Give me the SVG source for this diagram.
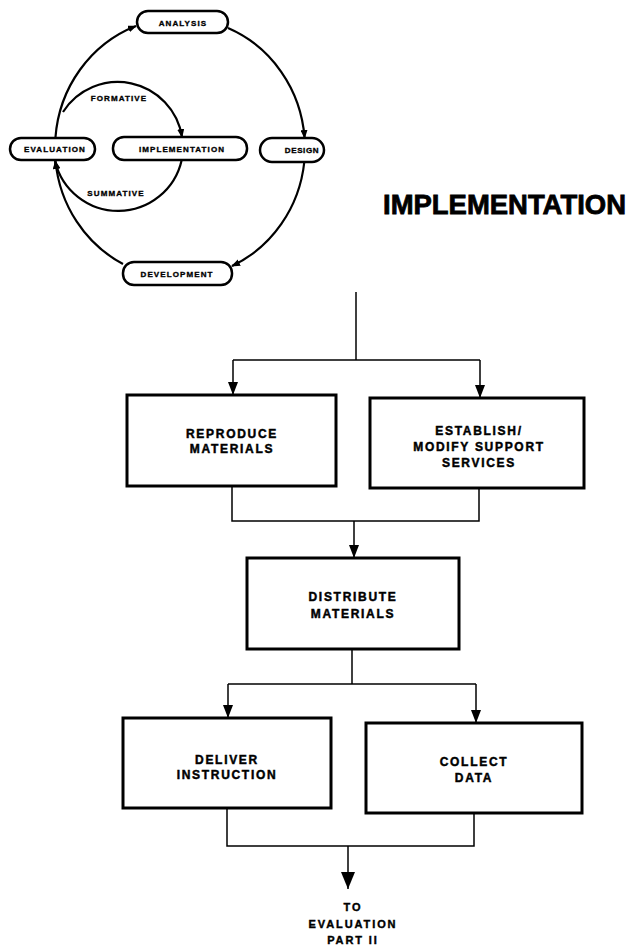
<svg xmlns="http://www.w3.org/2000/svg" width="634" height="949" viewBox="0 0 634 949">
  <style>
    .pill { fill: #fff; stroke: #000; stroke-width: 2.5; }
    .box { fill: #fff; stroke: #000; stroke-width: 3; }
    .arc { fill: none; stroke: #000; stroke-width: 2.2; }
    .wire { fill: none; stroke: #000; stroke-width: 1.5; }
    .lbl { font-family: "Liberation Sans", Arial, sans-serif; font-weight: bold; fill: #000; stroke: #000; text-anchor: middle; }
    .sm { font-size: 8px; letter-spacing: 1.1px; stroke-width: 0.35px; }
    .md { font-size: 12px; letter-spacing: 1.7px; stroke-width: 0.45px; }
    .ft { font-size: 11px; letter-spacing: 1.9px; stroke-width: 0.4px; }
    .title { font-size: 28px; text-anchor: start; stroke-width: 0.8px; }
  </style>
  <defs>
    <marker id="tipSmall" markerUnits="userSpaceOnUse" markerWidth="9" markerHeight="7" viewBox="0 0 9 7" refX="8" refY="3.5" orient="auto">
      <path d="M0,0 L9,3.5 L0,7 z" fill="#000"/>
    </marker>
    <marker id="tipFlow" markerUnits="userSpaceOnUse" markerWidth="13" markerHeight="10" viewBox="0 0 13 10" refX="13" refY="5" orient="auto">
      <path d="M0,0 L13,5 L0,10 z" fill="#000"/>
    </marker>
    <marker id="tipBig" markerUnits="userSpaceOnUse" markerWidth="17" markerHeight="14" viewBox="0 0 17 14" refX="17" refY="7" orient="auto">
      <path d="M0,0 L17,7 L0,14 z" fill="#000"/>
    </marker>
  </defs>

  <!-- cycle connectors -->
  <g id="cycle-connectors">
    <path class="arc" d="M55.4,138 A125,130 0 0,1 136,26" marker-end="url(#tipSmall)"/>
    <path class="arc" d="M228,28 A125,130 0 0,1 304.6,138" marker-end="url(#tipSmall)"/>
    <path class="arc" d="M304.3,162 A125,130 0 0,1 232,266" marker-end="url(#tipSmall)"/>
    <path class="arc" d="M123,264 A125,130 0 0,1 55.5,161" marker-end="url(#tipSmall)"/>
    <path class="arc" d="M63,112 A65,65 0 0,1 182,137" marker-end="url(#tipSmall)"/>
    <path class="arc" d="M181.7,160 A65,65 0 0,1 55,161" marker-end="url(#tipSmall)"/>
  </g>

  <!-- cycle phases -->
  <g id="analysis">
    <rect class="pill" x="137" y="11" width="91" height="22" rx="11"/>
    <text class="lbl sm" x="183" y="26">ANALYSIS</text>
  </g>
  <g id="evaluation">
    <rect class="pill" x="10" y="138" width="85" height="22" rx="11"/>
    <text class="lbl sm" x="55" y="152">EVALUATION</text>
  </g>
  <g id="implementation">
    <rect class="pill" x="113" y="137" width="134" height="23" rx="11"/>
    <text class="lbl sm" x="182" y="152">IMPLEMENTATION</text>
  </g>
  <g id="design">
    <rect class="pill" x="260" y="138" width="64" height="24" rx="12"/>
    <text class="lbl sm" x="302" y="153" style="letter-spacing:0.6px">DESIGN</text>
  </g>
  <g id="development">
    <rect class="pill" x="123" y="262" width="109" height="23" rx="11"/>
    <text class="lbl sm" x="177" y="277">DEVELOPMENT</text>
  </g>
  <g id="cycle-labels">
    <text class="lbl sm" x="119" y="101">FORMATIVE</text>
    <text class="lbl sm" x="116" y="196">SUMMATIVE</text>
  </g>

  <!-- title -->
  <text class="lbl title" x="383" y="214" textLength="243" lengthAdjust="spacingAndGlyphs">IMPLEMENTATION</text>

  <!-- flow connectors -->
  <g id="flow-connectors">
    <path class="wire" d="M356,292 V360"/>
    <path class="wire" d="M233,360 H480"/>
    <path class="wire" d="M233,360 V395" marker-end="url(#tipFlow)"/>
    <path class="wire" d="M480,360 V398" marker-end="url(#tipFlow)"/>
    <path class="wire" d="M232,486 V521 H479 V488"/>
    <path class="wire" d="M354,521 V558" marker-end="url(#tipFlow)"/>
    <path class="wire" d="M352,649 V684"/>
    <path class="wire" d="M228,684 H476"/>
    <path class="wire" d="M228,684 V718" marker-end="url(#tipFlow)"/>
    <path class="wire" d="M476,684 V723" marker-end="url(#tipFlow)"/>
    <path class="wire" d="M227,808 V846 H474 V813"/>
    <path class="wire" d="M348,846 V889" marker-end="url(#tipBig)"/>
  </g>

  <!-- flow steps -->
  <g id="reproduce-materials">
    <rect class="box" x="127" y="395" width="209" height="91"/>
    <text class="lbl md" x="232" y="438">REPRODUCE</text>
    <text class="lbl md" x="232" y="453">MATERIALS</text>
  </g>
  <g id="establish-support">
    <rect class="box" x="370" y="398" width="214" height="90"/>
    <text class="lbl md" x="479" y="435">ESTABLISH/</text>
    <text class="lbl md" x="479" y="451">MODIFY SUPPORT</text>
    <text class="lbl md" x="479" y="467">SERVICES</text>
  </g>
  <g id="distribute-materials">
    <rect class="box" x="247" y="558" width="212" height="91"/>
    <text class="lbl md" x="353" y="601">DISTRIBUTE</text>
    <text class="lbl md" x="353" y="618">MATERIALS</text>
  </g>
  <g id="deliver-instruction">
    <rect class="box" x="123" y="718" width="208" height="90"/>
    <text class="lbl md" x="227" y="764">DELIVER</text>
    <text class="lbl md" x="227" y="779">INSTRUCTION</text>
  </g>
  <g id="collect-data">
    <rect class="box" x="366" y="723" width="216" height="90"/>
    <text class="lbl md" x="474" y="766">COLLECT</text>
    <text class="lbl md" x="474" y="782">DATA</text>
  </g>
  <g id="to-evaluation">
    <text class="lbl ft" x="353" y="911">TO</text>
    <text class="lbl ft" x="353" y="928">EVALUATION</text>
    <text class="lbl ft" x="353" y="944">PART II</text>
  </g>
</svg>
